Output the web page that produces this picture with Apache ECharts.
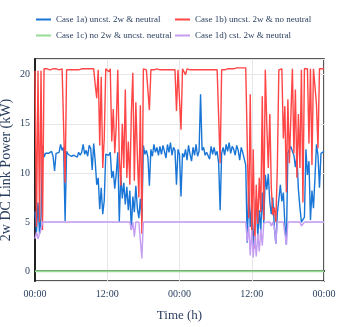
<!DOCTYPE html>
<html>
<head>
<meta charset="utf-8">
<script src="https://cdn.jsdelivr.net/npm/echarts@6/dist/echarts.min.js"></script>
<style>
  html, body { margin: 0; background: #fff; }
  #chart { width: 349px; height: 327px; }
</style>
</head>
<body>
<div id="chart"></div>
<script>
// samples every 15 min over 48 h
const stepHours = 0.25
const seriesNames = [
  'Case 1a) uncst. 2w & neutral',
  'Case 1b) uncst. 2w & no neutral',
  'Case 1c) no 2w & uncst. neutral',
  'Case 1d) cst. 2w & neutral',
]
const xTickLabels = ['00:00', '12:00', '00:00', '12:00', '00:00']

const case1a = [
  6.1, 4.0, 7.0, 3.8, 5.5, 12.8, 11.6, 12.0, 11.8, 12.0, 11.9, 12.2,
  11.7, 10.2, 12.0, 11.9, 12.1, 12.9, 12.3, 12.6, 5.1, 12.2, 11.9, 12.1,
  11.7, 11.9, 11.8, 12.0, 11.6, 12.1, 11.8, 12.1, 12.9, 11.9, 12.3, 11.7,
  12.8, 12.5, 10.3, 13.0, 11.2, 8.8, 9.5, 6.3, 8.5, 5.8, 7.2, 11.9,
  12.0, 11.8, 12.1, 9.5, 10.2, 8.4, 9.9, 12.1, 5.0, 9.8, 7.4, 9.0,
  6.8, 8.6, 6.2, 8.2, 4.2, 7.6, 6.0, 8.7, 6.4, 5.4, 7.4, 5.2,
  12.8, 11.9, 12.3, 11.6, 8.7, 12.4, 11.7, 12.9, 12.1, 12.6, 11.8, 12.7,
  11.9, 12.8, 12.2, 11.5, 12.9, 12.1, 13.1, 11.8, 12.6, 12.3, 8.8, 12.4,
  11.9, 7.6, 12.0, 11.6, 12.4, 11.3, 12.8, 11.9, 11.2, 12.6, 11.8, 12.9,
  11.7, 12.2, 18.0, 12.3, 12.6, 11.8, 12.1, 12.0, 11.4, 12.7, 11.9, 12.6,
  11.8, 12.2, 11.0, 6.2, 12.0, 12.6, 11.8, 12.9, 12.2, 13.1, 12.0, 12.7,
  12.4, 11.8, 12.8, 12.3, 11.3, 12.6, 12.1, 11.9, 10.8, 2.9, 8.5, 4.5,
  6.8, 2.3, 5.2, 7.4, 3.5, 6.2, 4.1, 8.0, 4.9, 9.8, 8.3, 9.9,
  7.0, 5.8, 7.5, 4.5, 2.8, 5.9, 7.3, 8.8, 7.1, 8.0, 4.8, 2.7,
  12.0, 12.4, 12.7, 12.2, 11.8, 10.6, 11.7, 8.3, 6.5, 5.0, 4.8, 5.5,
  12.4, 9.8, 11.2, 5.2, 8.2, 6.4, 9.5, 12.9, 11.8, 8.5, 12.0, 11.8,
  12.2,
]

const case1b = [
  20.4, 4.5, 20.4, 5.0, 20.4, 4.2, 20.6, 20.6, 20.6, 20.6, 20.5, 20.6,
  20.6, 20.5, 20.6, 20.6, 20.5, 20.6, 20.6, 20.5, 9.0, 20.5, 20.4, 20.5,
  20.5, 20.5, 20.5, 20.5, 20.5, 20.5, 20.6, 20.6, 20.6, 20.6, 20.6, 20.6,
  20.6, 20.6, 20.6, 20.6, 19.0, 17.6, 20.5, 12.8, 19.8, 10.5, 13.5, 20.6,
  20.6, 20.3, 20.6, 13.2, 16.5, 12.0, 14.9, 20.5, 11.5, 8.7, 15.0, 10.5,
  18.5, 9.5, 13.2, 8.8, 16.0, 20.2, 9.2, 17.2, 11.8, 7.5, 16.9, 3.8,
  20.6, 20.5, 20.5, 20.5, 16.4, 20.5, 20.6, 20.5, 20.5, 20.6, 20.5, 20.5,
  20.5, 20.5, 20.6, 20.5, 20.5, 20.5, 20.5, 20.5, 20.5, 20.5, 16.3, 20.5,
  20.6, 14.4, 20.6, 20.5, 20.0, 20.6, 20.5, 20.5, 20.5, 20.5, 20.5, 20.5,
  20.5, 20.5, 20.5, 20.5, 20.5, 20.5, 20.5, 20.5, 20.5, 20.5, 20.5, 20.5,
  20.5, 20.5, 20.5, 11.0, 20.5, 20.5, 20.5, 20.6, 20.6, 20.6, 20.6, 20.6,
  20.6, 20.6, 20.7, 20.7, 20.7, 20.7, 20.7, 20.7, 20.7, 20.8, 5.4, 18.0,
  3.5, 12.4, 2.3, 8.8, 4.8, 9.5, 6.0, 17.8, 5.2, 20.5, 14.9, 10.5,
  16.0, 8.5, 5.7, 6.5, 5.0, 10.5, 20.5, 20.6, 20.6, 13.5, 16.8, 8.0,
  17.5, 11.0, 15.8, 20.6, 12.0, 18.5, 9.5, 16.0, 10.5, 20.5, 7.0, 20.6,
  20.6, 20.6, 13.0, 20.6, 10.8, 20.6, 20.6, 17.0, 12.5, 20.6, 20.6, 20.6,
  20.6,
]

// case 1c is flat at zero over the whole window
const case1cHours = [0, 48]
const case1c = [0, 0]

const case1d = [
  3.3, 4.0, 3.3, 3.8, 4.2, 5, 5, 5, 5, 5, 5, 5,
  5, 5, 5, 5, 5, 5, 5, 5, 5, 5, 5, 5,
  5, 5, 5, 5, 5, 5, 5, 5, 5, 5, 5, 5,
  5, 5, 5, 5, 5, 5, 5, 5, 5, 5, 5, 5,
  5, 5, 5, 5, 5, 5, 5, 5, 5, 5, 5, 5,
  5, 5, 5, 5, 4.2, 5, 3.5, 5, 5, 5, 5, 1.3,
  5, 5, 5, 5, 5, 5, 5, 5, 5, 5, 5, 5,
  5, 5, 5, 5, 5, 5, 5, 5, 5, 5, 5, 5,
  5, 5, 5, 5, 5, 5, 5, 5, 5, 5, 5, 5,
  5, 5, 5, 5, 5, 5, 5, 5, 5, 5, 5, 5,
  5, 5, 5, 5, 5, 5, 5, 5, 5, 5, 5, 5,
  5, 5, 5, 5, 5, 5, 5, 5, 5, 3.0, 4.6, 1.6,
  4.2, 1.4, 3.6, 1.5, 3.8, 2.0, 4.3, 2.6, 4.9, 5, 5, 5,
  5, 4.6, 5, 4.5, 2.8, 5, 5, 5, 5, 5, 4.8, 2.7,
  5, 5, 5, 5, 5, 5, 5, 5, 5, 4.6, 4.4, 5,
  5, 5, 5, 5, 5, 5, 5, 5, 5, 5, 5, 5,
  5,
]

const colors = ['#1976d6', '#ff4545', '#95db95', '#c49cf2']
const textColor = '#2a3f5f'
const serif = '"Liberation Serif", "Times New Roman", serif'

function toPoints(values){
  return values.map((v, i) => [i * stepHours, v])
}

function legendAt(name, left, top){
  return {
    data: [name],
    left, top,
    icon: 'rect',
    itemWidth: 15,
    itemHeight: 2,
    padding: 0,
    selectedMode: false,
    textStyle: { fontFamily: serif, fontSize: 9, color: textColor },
  }
}

function lineSeries(name, data, color, width){
  return {
    name, type: 'line', data,
    showSymbol: false, symbol: 'none',
    color,
    lineStyle: { color, width },
  }
}

const chart = echarts.init(document.getElementById('chart'), null, { renderer: 'canvas' })
chart.setOption({
  animation: false,
  backgroundColor: '#fff',
  legend: [
    legendAt(seriesNames[0], 36, 15),
    legendAt(seriesNames[1], 175, 15),
    legendAt(seriesNames[2], 36, 31),
    legendAt(seriesNames[3], 175, 31),
  ],
  grid: {
    left: 35, right: 25, top: 59, bottom: 46,
    outerBoundsMode: 'none',
    show: true, borderColor: '#222', borderWidth: 1.5,
  },
  xAxis: {
    type: 'value', min: 0, max: 48, interval: 12,
    name: 'Time (h)', nameLocation: 'middle', nameGap: 28,
    nameMoveOverlap: false,
    nameTextStyle: { fontFamily: serif, fontSize: 13, color: textColor },
    axisLine: { lineStyle: { color: '#222', width: 2 } },
    axisTick: { show: false },
    axisLabel: {
      fontFamily: serif, fontSize: 10, color: textColor, margin: 8,
      formatter: v => xTickLabels[Math.round(v / 12)],
    },
    splitLine: { lineStyle: { color: '#e6e6e6', width: 1 } },
  },
  yAxis: {
    type: 'value', min: -1, max: 21.6,
    name: '2w DC Link Power (kW)', nameLocation: 'middle', nameGap: 22,
    nameMoveOverlap: false,
    nameTextStyle: { fontFamily: serif, fontSize: 14, color: textColor },
    axisLine: { show: true, lineStyle: { color: '#222', width: 2 } },
    axisTick: { show: false },
    axisLabel: {
      fontFamily: serif, fontSize: 10, color: textColor, margin: 5,
      showMinLabel: false, showMaxLabel: false,
    },
    splitLine: { lineStyle: { color: '#e6e6e6', width: 1 } },
  },
  series: [
    lineSeries(seriesNames[0], toPoints(case1a), colors[0], 1.4),
    lineSeries(seriesNames[1], toPoints(case1b), colors[1], 1.4),
    lineSeries(seriesNames[2], case1cHours.map((h, i) => [h, case1c[i]]), colors[2], 2),
    lineSeries(seriesNames[3], toPoints(case1d), colors[3], 1.4),
  ],
})
</script>
</body>
</html>
